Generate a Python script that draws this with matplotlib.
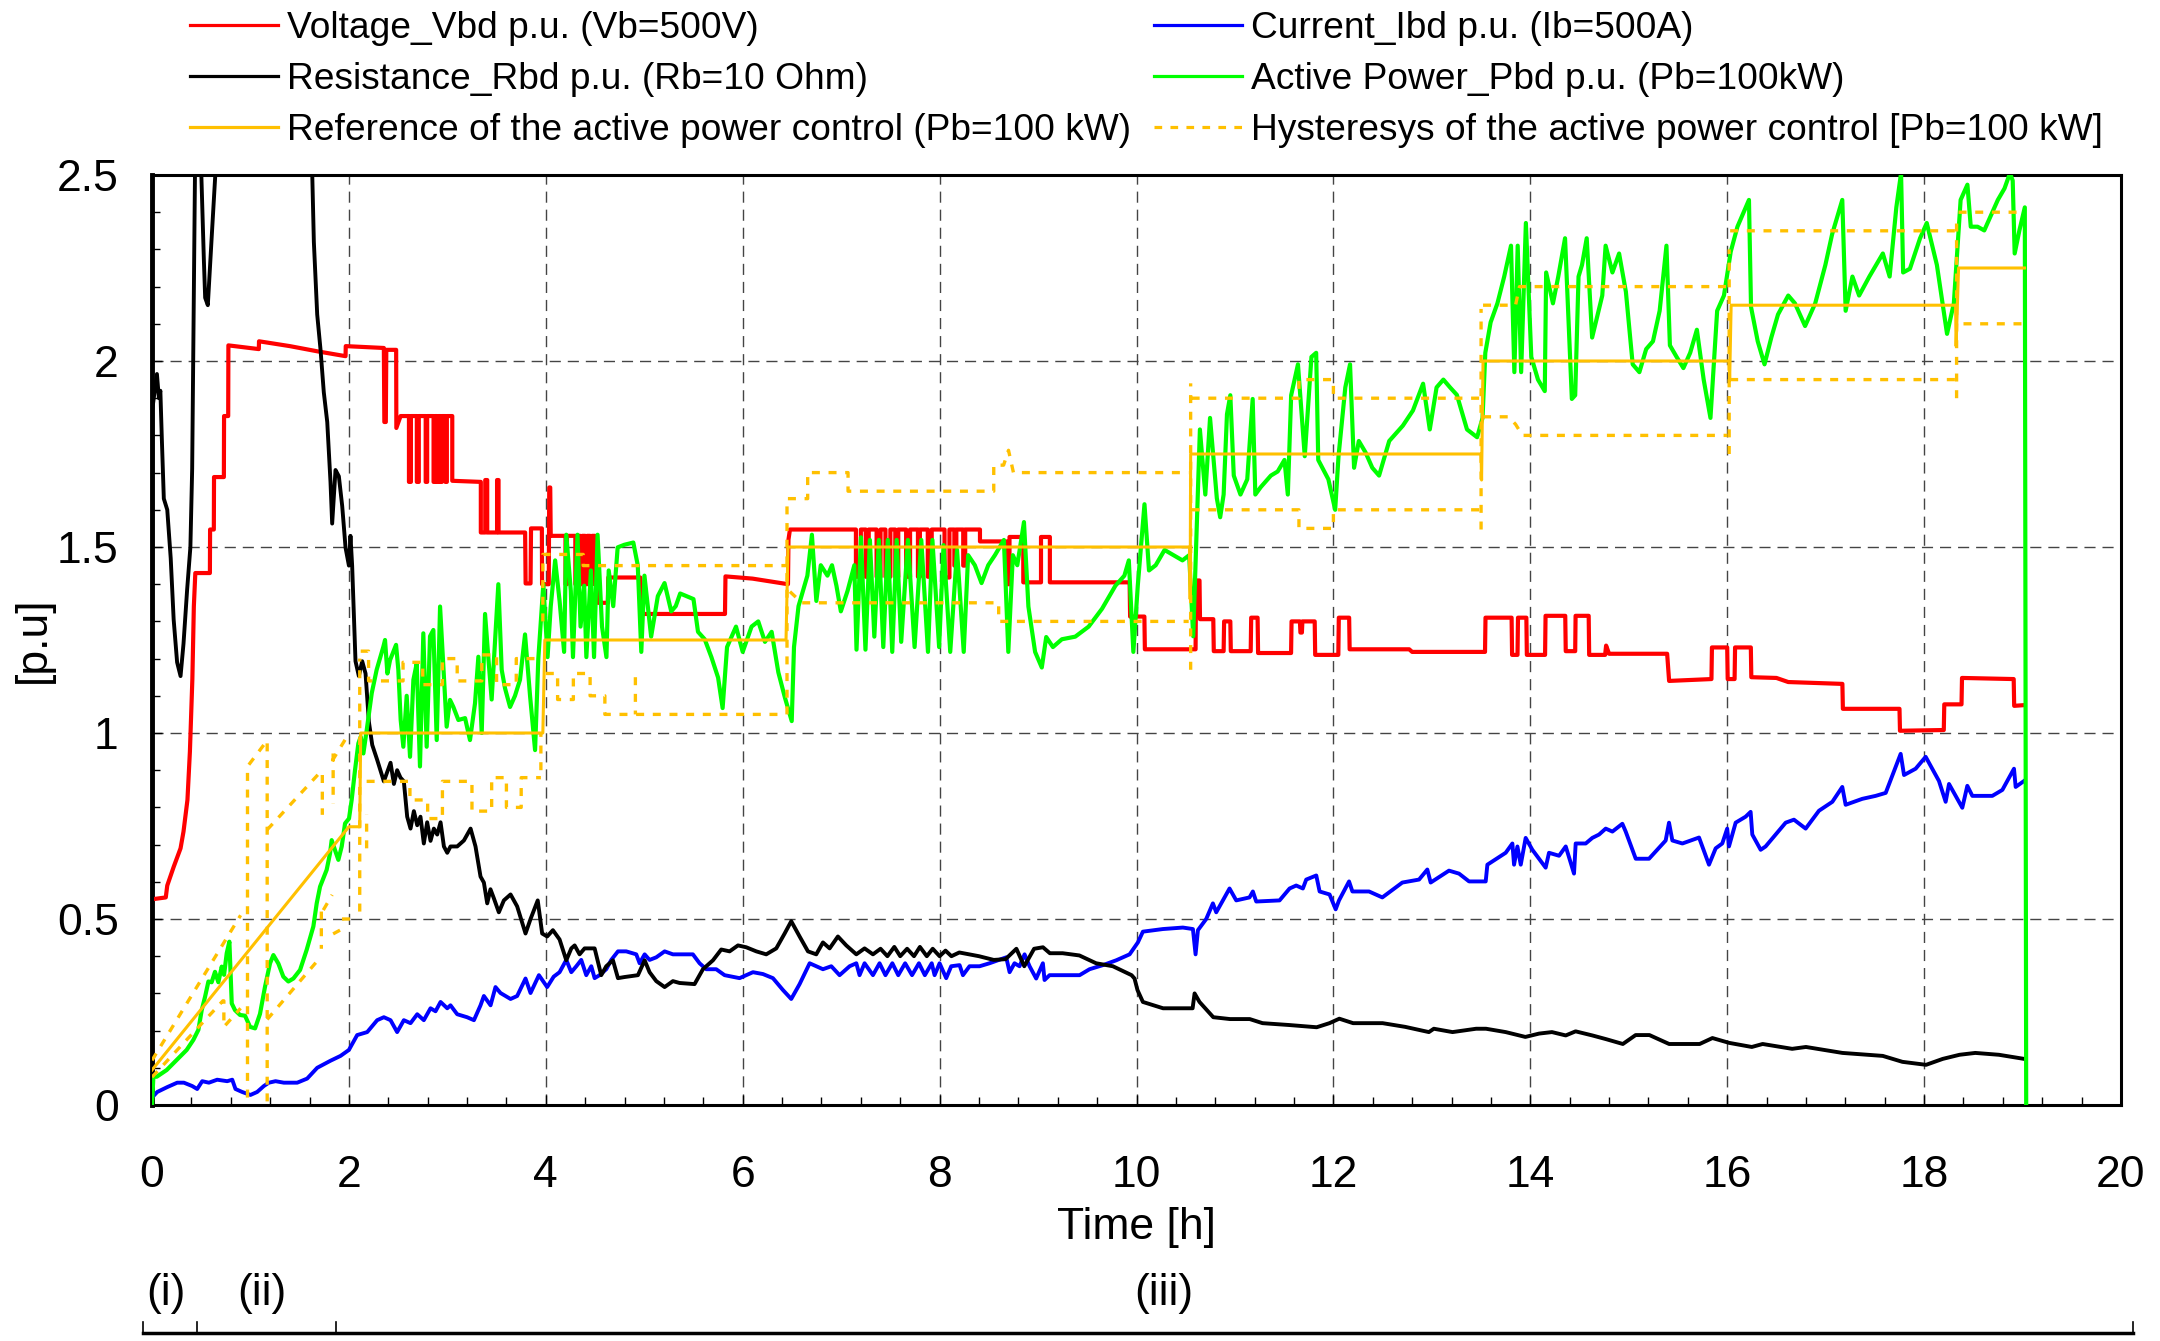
import numpy as np
import matplotlib
matplotlib.use('Agg')
import matplotlib.pyplot as plt
from matplotlib.lines import Line2D
from matplotlib.transforms import blended_transform_factory
from matplotlib.ticker import MultipleLocator, FuncFormatter

plt.rcParams['font.family'] = ['Liberation Sans', 'DejaVu Sans']

# ---------------- data (time [h], value [p.u.]) ----------------
voltage_pts = [
    (0.0, 0.553), (0.14, 0.558), (0.155, 0.59), (0.22, 0.64), (0.29, 0.69), (0.32, 0.735),
    (0.36, 0.82), (0.385, 0.95), (0.41, 1.145), (0.425, 1.34), (0.44, 1.43), (0.588, 1.43),
    (0.59, 1.547), (0.628, 1.547), (0.63, 1.688), (0.73, 1.688), (0.732, 1.852), (0.774, 1.852),
    (0.776, 2.042), (1.085, 2.032), (1.087, 2.053), (1.4, 2.04), (1.68, 2.026), (1.966, 2.013),
    (1.968, 2.04), (2.355, 2.035), (2.36, 1.836), (2.375, 1.836), (2.38, 2.03), (2.48, 2.03),
    (2.482, 1.82), (2.525, 1.852),
    (2.61, 1.852), (2.61, 1.675), (2.63, 1.675), (2.63, 1.852), (2.69, 1.852), (2.69, 1.675),
    (2.71, 1.675), (2.71, 1.852), (2.78, 1.852), (2.78, 1.675), (2.795, 1.675), (2.795, 1.852),
    (2.86, 1.852), (2.86, 1.675), (2.875, 1.675), (2.875, 1.852), (2.895, 1.852), (2.895, 1.675),
    (2.91, 1.675), (2.91, 1.852), (2.93, 1.852), (2.93, 1.675), (2.945, 1.675), (2.945, 1.852),
    (2.98, 1.852), (2.98, 1.675), (2.995, 1.675), (2.995, 1.852), (3.05, 1.852), (3.05, 1.678),
    (3.34, 1.675), (3.34, 1.539), (3.385, 1.539), (3.385, 1.68), (3.405, 1.68), (3.405, 1.539),
    (3.505, 1.539), (3.505, 1.68), (3.52, 1.68), (3.52, 1.539), (3.79, 1.539), (3.795, 1.402),
    (3.845, 1.402), (3.85, 1.55), (3.96, 1.55), (3.962, 1.40), (4.03, 1.40), (4.035, 1.66),
    (4.045, 1.66), (4.05, 1.53), (4.2, 1.53), (4.2, 1.40), (4.215, 1.40), (4.215, 1.53),
    (4.3, 1.53), (4.3, 1.40), (4.32, 1.40), (4.32, 1.53), (4.35, 1.53), (4.35, 1.40),
    (4.37, 1.40), (4.37, 1.53), (4.4, 1.53), (4.4, 1.40), (4.42, 1.40), (4.42, 1.53),
    (4.45, 1.53), (4.45, 1.40), (4.47, 1.40), (4.47, 1.53), (4.5, 1.53), (4.5, 1.40),
    (4.53, 1.40), (4.53, 1.35), (4.63, 1.35), (4.635, 1.418), (4.96, 1.418), (4.965, 1.32),
    (5.82, 1.32), (5.825, 1.421), (6.1, 1.415), (6.46, 1.40), (6.465, 1.52), (6.48, 1.547),
    (7.15, 1.547), (7.15, 1.42), (7.2, 1.42), (7.2, 1.547), (7.25, 1.547), (7.25, 1.42),
    (7.28, 1.42), (7.28, 1.547), (7.36, 1.547), (7.36, 1.42), (7.4, 1.42), (7.4, 1.547),
    (7.45, 1.547), (7.45, 1.42), (7.5, 1.42), (7.5, 1.547), (7.55, 1.547), (7.55, 1.42),
    (7.58, 1.42), (7.58, 1.547), (7.66, 1.547), (7.66, 1.42), (7.7, 1.42), (7.7, 1.547),
    (7.78, 1.547), (7.78, 1.42), (7.8, 1.42), (7.8, 1.547), (7.88, 1.547), (7.88, 1.42),
    (7.92, 1.42), (7.92, 1.547), (8.05, 1.547), (8.05, 1.418), (8.1, 1.418), (8.1, 1.547),
    (8.15, 1.547), (8.15, 1.45), (8.17, 1.45), (8.17, 1.547), (8.24, 1.547), (8.24, 1.45),
    (8.26, 1.45), (8.26, 1.547), (8.41, 1.547), (8.41, 1.515), (8.68, 1.515), (8.68, 1.40),
    (8.71, 1.40), (8.71, 1.527), (8.85, 1.527), (8.85, 1.405), (9.03, 1.405), (9.03, 1.527),
    (9.12, 1.527), (9.12, 1.405), (9.93, 1.405), (9.935, 1.313), (10.08, 1.313), (10.085, 1.225),
    (10.6, 1.225), (10.605, 1.41), (10.64, 1.41), (10.645, 1.306), (10.78, 1.306), (10.785, 1.22),
    (10.885, 1.22), (10.89, 1.30), (10.953, 1.30), (10.958, 1.22), (11.16, 1.22), (11.165, 1.31),
    (11.23, 1.31), (11.235, 1.215), (11.57, 1.215), (11.575, 1.30), (11.66, 1.30), (11.665, 1.27),
    (11.68, 1.27), (11.685, 1.30), (11.81, 1.30), (11.815, 1.21), (12.05, 1.21), (12.055, 1.31),
    (12.16, 1.31), (12.165, 1.225), (12.77, 1.225), (12.8, 1.218), (13.54, 1.218), (13.545, 1.31),
    (13.81, 1.31), (13.815, 1.21), (13.87, 1.21), (13.875, 1.31), (13.96, 1.31), (13.965, 1.21),
    (14.15, 1.21), (14.155, 1.315), (14.355, 1.315), (14.36, 1.22), (14.456, 1.22), (14.46, 1.315),
    (14.593, 1.315), (14.598, 1.21), (14.76, 1.21), (14.77, 1.235), (14.8, 1.213), (15.39, 1.213),
    (15.41, 1.14), (15.84, 1.145), (15.845, 1.23), (16.0, 1.23), (16.005, 1.145), (16.075, 1.145),
    (16.08, 1.23), (16.24, 1.23), (16.245, 1.15), (16.5, 1.148), (16.62, 1.137), (17.17, 1.132),
    (17.175, 1.065), (17.75, 1.065), (17.755, 1.006), (18.2, 1.008), (18.205, 1.077), (18.38, 1.077),
    (18.385, 1.148), (18.91, 1.145), (18.915, 1.073), (19.02, 1.075),
]

current_pts = [
    (0.0, 0.02), (0.053, 0.035), (0.154, 0.048), (0.256, 0.06), (0.324, 0.06), (0.408, 0.051),
    (0.459, 0.043), (0.51, 0.064), (0.578, 0.06), (0.662, 0.068), (0.764, 0.064), (0.815, 0.068),
    (0.848, 0.043), (0.916, 0.035), (1.0, 0.027), (1.068, 0.035), (1.136, 0.051), (1.187, 0.06),
    (1.255, 0.064), (1.339, 0.06), (1.475, 0.06), (1.576, 0.071), (1.678, 0.10), (1.813, 0.119),
    (1.915, 0.132), (2.0, 0.148), (2.084, 0.188), (2.186, 0.196), (2.287, 0.228), (2.355, 0.236),
    (2.423, 0.228), (2.49, 0.196), (2.558, 0.228), (2.626, 0.220), (2.694, 0.244), (2.761, 0.228),
    (2.829, 0.26), (2.88, 0.252), (2.931, 0.277), (2.999, 0.26), (3.032, 0.268), (3.1, 0.244),
    (3.2, 0.236), (3.27, 0.228), (3.337, 0.268), (3.371, 0.293), (3.439, 0.268), (3.489, 0.317),
    (3.54, 0.301), (3.642, 0.285), (3.709, 0.293), (3.794, 0.34), (3.845, 0.301), (3.93, 0.349),
    (4.014, 0.317), (4.08, 0.345), (4.14, 0.357), (4.208, 0.39), (4.259, 0.357), (4.31, 0.373),
    (4.36, 0.39), (4.411, 0.349), (4.462, 0.373), (4.496, 0.341), (4.546, 0.349), (4.614, 0.365),
    (4.665, 0.39), (4.733, 0.413), (4.817, 0.413), (4.919, 0.405), (4.953, 0.381), (5.004, 0.405),
    (5.054, 0.39), (5.122, 0.397), (5.207, 0.413), (5.291, 0.405), (5.494, 0.405), (5.562, 0.381),
    (5.63, 0.365), (5.731, 0.365), (5.816, 0.349), (5.968, 0.341), (6.104, 0.357), (6.206, 0.352),
    (6.307, 0.341), (6.409, 0.309), (6.493, 0.285), (6.578, 0.325), (6.68, 0.381), (6.747, 0.373),
    (6.815, 0.365), (6.9, 0.373), (6.984, 0.349), (7.086, 0.373), (7.154, 0.381), (7.187, 0.349),
    (7.238, 0.381), (7.323, 0.349), (7.39, 0.381), (7.45, 0.349), (7.52, 0.381), (7.58, 0.349),
    (7.65, 0.381), (7.72, 0.349), (7.79, 0.381), (7.85, 0.349), (7.92, 0.381), (7.949, 0.349),
    (8.0, 0.381), (8.067, 0.341), (8.118, 0.373), (8.203, 0.376), (8.237, 0.349), (8.304, 0.373),
    (8.406, 0.373), (8.507, 0.381), (8.677, 0.397), (8.711, 0.357), (8.761, 0.381), (8.812, 0.373),
    (8.863, 0.405), (8.914, 0.373), (8.981, 0.34), (9.049, 0.381), (9.066, 0.336), (9.117, 0.349),
    (9.422, 0.349), (9.523, 0.365), (9.659, 0.376), (9.794, 0.389), (9.93, 0.405), (10.014, 0.437),
    (10.065, 0.466), (10.268, 0.473), (10.471, 0.477), (10.573, 0.473), (10.6, 0.405), (10.624, 0.47),
    (10.708, 0.5), (10.776, 0.542), (10.81, 0.518), (10.877, 0.55), (10.945, 0.582), (11.013, 0.55),
    (11.148, 0.558), (11.182, 0.574), (11.216, 0.547), (11.453, 0.55), (11.555, 0.582), (11.622, 0.59),
    (11.69, 0.582), (11.724, 0.606), (11.826, 0.617), (11.86, 0.574), (11.961, 0.566), (12.023, 0.526),
    (12.057, 0.55), (12.159, 0.601), (12.193, 0.574), (12.362, 0.574), (12.497, 0.558), (12.7, 0.598),
    (12.87, 0.606), (12.954, 0.633), (12.988, 0.598), (13.174, 0.63), (13.276, 0.622), (13.378, 0.601),
    (13.547, 0.601), (13.564, 0.646), (13.75, 0.678), (13.818, 0.703), (13.835, 0.646), (13.869, 0.695),
    (13.903, 0.646), (13.953, 0.718), (14.021, 0.686), (14.089, 0.662), (14.156, 0.638), (14.19, 0.678),
    (14.292, 0.67), (14.36, 0.695), (14.444, 0.622), (14.461, 0.703), (14.563, 0.703), (14.63, 0.718),
    (14.698, 0.727), (14.766, 0.743), (14.834, 0.735), (14.935, 0.756), (14.969, 0.735), (15.071, 0.662),
    (15.206, 0.662), (15.375, 0.711), (15.409, 0.759), (15.443, 0.711), (15.545, 0.703), (15.714, 0.719),
    (15.815, 0.646), (15.883, 0.69), (15.95, 0.703), (16.0, 0.743), (16.018, 0.695), (16.086, 0.759),
    (16.187, 0.775), (16.238, 0.788), (16.255, 0.727), (16.34, 0.686), (16.39, 0.695), (16.492, 0.727),
    (16.594, 0.759), (16.678, 0.767), (16.797, 0.743), (16.932, 0.791), (17.068, 0.815), (17.169, 0.855),
    (17.203, 0.807), (17.372, 0.823), (17.508, 0.831), (17.61, 0.839), (17.762, 0.944), (17.796, 0.887),
    (17.914, 0.904), (18.016, 0.936), (18.151, 0.871), (18.219, 0.815), (18.253, 0.863), (18.388, 0.799),
    (18.439, 0.858), (18.49, 0.831), (18.693, 0.831), (18.795, 0.847), (18.913, 0.904), (18.93, 0.855),
    (19.015, 0.871),
]

resistance_pts = [
    (0.0, 0.0), (0.003, 1.87), (0.05, 1.965), (0.07, 1.90), (0.085, 1.92), (0.10, 1.79),
    (0.12, 1.63), (0.155, 1.60), (0.19, 1.47), (0.22, 1.305), (0.255, 1.19), (0.29, 1.153),
    (0.32, 1.24), (0.357, 1.386), (0.39, 1.50), (0.408, 1.71), (0.425, 2.19), (0.44, 2.6),
    (0.47, 2.9), (0.49, 2.6), (0.527, 2.27), (0.54, 2.17), (0.567, 2.15), (0.588, 2.25),
    (0.61, 2.35), (0.645, 2.51), (0.7, 2.9), (1.0, 3.4), (1.4, 3.1), (1.6, 2.6), (1.627, 2.51),
    (1.644, 2.32), (1.678, 2.125), (1.712, 2.03), (1.745, 1.916), (1.78, 1.836), (1.813, 1.675),
    (1.83, 1.563), (1.864, 1.707), (1.898, 1.69), (1.932, 1.61), (1.966, 1.498), (2.0, 1.45),
    (2.016, 1.53), (2.033, 1.45), (2.067, 1.193), (2.101, 1.153), (2.135, 1.193), (2.169, 1.16),
    (2.203, 1.03), (2.237, 0.968), (2.287, 0.928), (2.355, 0.87), (2.423, 0.92), (2.457, 0.863),
    (2.49, 0.90), (2.524, 0.88), (2.558, 0.87), (2.592, 0.775), (2.626, 0.743), (2.66, 0.79),
    (2.694, 0.752), (2.727, 0.775), (2.761, 0.703), (2.795, 0.76), (2.829, 0.71), (2.863, 0.743),
    (2.897, 0.727), (2.931, 0.76), (2.965, 0.695), (2.999, 0.678), (3.032, 0.695), (3.1, 0.695),
    (3.168, 0.711), (3.236, 0.743), (3.286, 0.695), (3.337, 0.614), (3.371, 0.598), (3.405, 0.542),
    (3.438, 0.58), (3.472, 0.556), (3.523, 0.518), (3.574, 0.55), (3.642, 0.566), (3.709, 0.534),
    (3.794, 0.461), (3.845, 0.50), (3.918, 0.55), (3.963, 0.461), (4.014, 0.453), (4.072, 0.47),
    (4.14, 0.445), (4.208, 0.389), (4.259, 0.421), (4.293, 0.429), (4.343, 0.405), (4.394, 0.421),
    (4.496, 0.421), (4.563, 0.349), (4.614, 0.373), (4.682, 0.389), (4.733, 0.341), (4.8, 0.344),
    (4.936, 0.349), (5.004, 0.389), (5.054, 0.357), (5.122, 0.333), (5.207, 0.317), (5.291, 0.333),
    (5.359, 0.328), (5.511, 0.325), (5.596, 0.365), (5.698, 0.389), (5.782, 0.418), (5.867, 0.413),
    (5.952, 0.429), (6.036, 0.424), (6.138, 0.413), (6.239, 0.405), (6.341, 0.421), (6.426, 0.461),
    (6.493, 0.494), (6.578, 0.453), (6.663, 0.413), (6.747, 0.405), (6.815, 0.437), (6.883, 0.421),
    (6.967, 0.453), (7.052, 0.429), (7.154, 0.405), (7.238, 0.421), (7.323, 0.405), (7.4, 0.42),
    (7.47, 0.40), (7.54, 0.425), (7.6, 0.40), (7.67, 0.42), (7.74, 0.40), (7.8, 0.425), (7.87, 0.40),
    (7.93, 0.42), (8.0, 0.40), (8.06, 0.415), (8.12, 0.40), (8.2, 0.41), (8.3, 0.405), (8.4, 0.40),
    (8.55, 0.39), (8.67, 0.392), (8.78, 0.42), (8.86, 0.373), (8.96, 0.42), (9.05, 0.424),
    (9.12, 0.408), (9.25, 0.408), (9.42, 0.402), (9.59, 0.381), (9.76, 0.373), (9.95, 0.349),
    (9.98, 0.34), (10.01, 0.309), (10.065, 0.277), (10.27, 0.26), (10.57, 0.26), (10.59, 0.30),
    (10.64, 0.277), (10.78, 0.236), (10.95, 0.231), (11.15, 0.231), (11.28, 0.22), (11.55, 0.215),
    (11.83, 0.209), (11.96, 0.22), (12.06, 0.232), (12.2, 0.22), (12.5, 0.22), (12.73, 0.21),
    (12.97, 0.196), (13.02, 0.205), (13.21, 0.196), (13.45, 0.205), (13.55, 0.205), (13.75, 0.196),
    (13.95, 0.183), (14.09, 0.192), (14.22, 0.196), (14.36, 0.187), (14.46, 0.198), (14.63, 0.187),
    (14.77, 0.177), (14.94, 0.164), (15.07, 0.188), (15.21, 0.188), (15.41, 0.164), (15.58, 0.164),
    (15.72, 0.164), (15.85, 0.18), (16.02, 0.167), (16.25, 0.156), (16.36, 0.164), (16.66, 0.151),
    (16.8, 0.156), (17.17, 0.14), (17.58, 0.132), (17.78, 0.116), (18.02, 0.108), (18.19, 0.124),
    (18.36, 0.135), (18.52, 0.14), (18.76, 0.135), (19.015, 0.124),
]

power_pts = [
    (0.0, 0.0), (0.014, 0.076), (0.048, 0.076), (0.149, 0.094), (0.251, 0.121), (0.352, 0.148),
    (0.42, 0.175), (0.471, 0.202), (0.505, 0.255), (0.539, 0.291), (0.573, 0.332), (0.606, 0.33),
    (0.64, 0.358), (0.674, 0.33), (0.708, 0.372), (0.732, 0.35), (0.759, 0.408), (0.786, 0.439),
    (0.81, 0.273), (0.843, 0.255), (0.894, 0.242), (0.945, 0.24), (0.996, 0.21), (1.047, 0.206),
    (1.097, 0.245), (1.148, 0.318), (1.199, 0.381), (1.233, 0.403), (1.284, 0.38), (1.334, 0.345),
    (1.385, 0.332), (1.436, 0.34), (1.504, 0.363), (1.571, 0.417), (1.639, 0.48), (1.673, 0.542),
    (1.707, 0.587), (1.774, 0.632), (1.808, 0.676), (1.825, 0.712), (1.859, 0.685), (1.893, 0.659),
    (1.927, 0.695), (1.961, 0.757), (2.001, 0.77), (2.028, 0.82), (2.062, 0.9), (2.096, 0.972),
    (2.12, 0.99), (2.147, 0.945), (2.181, 1.008), (2.232, 1.107), (2.282, 1.17), (2.35, 1.232),
    (2.367, 1.25), (2.391, 1.16), (2.418, 1.196), (2.479, 1.237), (2.502, 1.17), (2.526, 1.035),
    (2.553, 0.963), (2.587, 1.10), (2.621, 0.936), (2.655, 1.143), (2.689, 1.187), (2.722, 0.91),
    (2.756, 1.268), (2.79, 0.963), (2.824, 1.26), (2.858, 1.277), (2.892, 0.981), (2.926, 1.34),
    (2.993, 1.017), (3.027, 1.089), (3.061, 1.07), (3.112, 1.035), (3.18, 1.04), (3.23, 0.981),
    (3.281, 1.08), (3.315, 1.205), (3.349, 1.0), (3.383, 1.32), (3.417, 1.2), (3.45, 1.09),
    (3.518, 1.40), (3.552, 1.17), (3.586, 1.12), (3.637, 1.07), (3.687, 1.10), (3.738, 1.143),
    (3.789, 1.265), (3.84, 1.10), (3.891, 0.954), (3.924, 1.2), (3.975, 1.40), (4.018, 1.204),
    (4.05, 1.34), (4.095, 1.464), (4.14, 1.355), (4.186, 1.218), (4.208, 1.533), (4.254, 1.382),
    (4.276, 1.204), (4.322, 1.533), (4.353, 1.286), (4.39, 1.396), (4.412, 1.204), (4.458, 1.437),
    (4.49, 1.204), (4.526, 1.533), (4.571, 1.286), (4.616, 1.204), (4.639, 1.437), (4.685, 1.341),
    (4.73, 1.499), (4.798, 1.506), (4.889, 1.512), (4.934, 1.451), (4.97, 1.218), (5.002, 1.423),
    (5.07, 1.259), (5.138, 1.368), (5.206, 1.403), (5.274, 1.327), (5.32, 1.341), (5.365, 1.375),
    (5.5, 1.36), (5.546, 1.272), (5.614, 1.252), (5.682, 1.204), (5.75, 1.149), (5.796, 1.067),
    (5.841, 1.231), (5.932, 1.286), (6.0, 1.218), (6.09, 1.286), (6.158, 1.30), (6.226, 1.245),
    (6.294, 1.272), (6.362, 1.163), (6.43, 1.094), (6.498, 1.032), (6.521, 1.231), (6.567, 1.341),
    (6.657, 1.423), (6.703, 1.533), (6.748, 1.355), (6.793, 1.451), (6.861, 1.423), (6.907, 1.451),
    (6.952, 1.396), (6.997, 1.327), (7.065, 1.382), (7.134, 1.451), (7.156, 1.224), (7.201, 1.526),
    (7.247, 1.224), (7.292, 1.519), (7.337, 1.259), (7.383, 1.519), (7.428, 1.231), (7.474, 1.519),
    (7.519, 1.218), (7.564, 1.519), (7.61, 1.245), (7.678, 1.519), (7.746, 1.231), (7.814, 1.519),
    (7.882, 1.218), (7.927, 1.519), (7.995, 1.231), (8.04, 1.505), (8.108, 1.218), (8.177, 1.492),
    (8.245, 1.218), (8.29, 1.478), (8.358, 1.451), (8.426, 1.403), (8.494, 1.451), (8.562, 1.478),
    (8.653, 1.519), (8.698, 1.218), (8.744, 1.478), (8.789, 1.451), (8.857, 1.567), (8.902, 1.34),
    (8.97, 1.218), (9.038, 1.176), (9.083, 1.258), (9.151, 1.231), (9.242, 1.252), (9.378, 1.259),
    (9.514, 1.286), (9.65, 1.334), (9.786, 1.396), (9.877, 1.423), (9.922, 1.464), (9.968, 1.218),
    (10.013, 1.396), (10.081, 1.615), (10.127, 1.437), (10.195, 1.451), (10.285, 1.492),
    (10.376, 1.478), (10.467, 1.464), (10.535, 1.478), (10.576, 1.26), (10.61, 1.54), (10.644, 1.816),
    (10.699, 1.641), (10.747, 1.847), (10.816, 1.631), (10.85, 1.58), (10.885, 1.641), (10.919, 1.857),
    (10.953, 1.908), (10.988, 1.692), (11.056, 1.641), (11.125, 1.682), (11.18, 1.898), (11.207, 1.641),
    (11.262, 1.661), (11.365, 1.692), (11.434, 1.703), (11.503, 1.734), (11.537, 1.641), (11.571, 1.908),
    (11.64, 1.991), (11.709, 1.744), (11.777, 2.011), (11.825, 2.022), (11.846, 1.734), (11.949, 1.682),
    (12.018, 1.60), (12.052, 1.744), (12.121, 1.929), (12.169, 1.991), (12.21, 1.713), (12.258, 1.785),
    (12.327, 1.754), (12.395, 1.713), (12.464, 1.692), (12.567, 1.785), (12.705, 1.826), (12.808, 1.867),
    (12.911, 1.939), (12.979, 1.816), (13.048, 1.929), (13.117, 1.95), (13.185, 1.929), (13.254, 1.909),
    (13.357, 1.816), (13.46, 1.795), (13.515, 1.847), (13.543, 2.022), (13.597, 2.104), (13.666, 2.155),
    (13.735, 2.227), (13.804, 2.31), (13.838, 1.97), (13.872, 2.31), (13.907, 1.97), (13.955, 2.371),
    (14.01, 2.011), (14.078, 1.95), (14.147, 1.919), (14.161, 2.238), (14.23, 2.155), (14.284, 2.227),
    (14.353, 2.33), (14.422, 1.898), (14.456, 1.908), (14.49, 2.227), (14.525, 2.258), (14.573, 2.33),
    (14.628, 2.063), (14.731, 2.176), (14.765, 2.31), (14.834, 2.238), (14.902, 2.289), (14.971, 2.186),
    (15.04, 1.991), (15.108, 1.97), (15.177, 2.032), (15.246, 2.053), (15.314, 2.135), (15.383, 2.31),
    (15.418, 2.042), (15.486, 2.011), (15.555, 1.981), (15.624, 2.022), (15.692, 2.084), (15.761, 1.95),
    (15.83, 1.847), (15.898, 2.135), (15.967, 2.176), (16.036, 2.294), (16.104, 2.361), (16.221, 2.433),
    (16.242, 2.145), (16.31, 2.053), (16.379, 1.991), (16.448, 2.063), (16.516, 2.125), (16.62, 2.176),
    (16.688, 2.155), (16.791, 2.094), (16.894, 2.155), (16.997, 2.258), (17.066, 2.341), (17.169, 2.433),
    (17.203, 2.135), (17.272, 2.227), (17.34, 2.176), (17.444, 2.227), (17.581, 2.289), (17.65, 2.227),
    (17.718, 2.413), (17.766, 2.505), (17.787, 2.238), (17.856, 2.248), (17.959, 2.33), (18.027, 2.371),
    (18.13, 2.258), (18.233, 2.073), (18.302, 2.155), (18.371, 2.433), (18.44, 2.474), (18.474, 2.361),
    (18.543, 2.361), (18.611, 2.351), (18.68, 2.392), (18.749, 2.433), (18.817, 2.464), (18.872, 2.505),
    (18.9, 2.485), (18.92, 2.289), (18.968, 2.351), (19.023, 2.413), (19.037, 0.0),
]

reference_pts = [
    (0.0, 0.094), (2.0, 0.748), (2.11, 0.748), (2.12, 1.0), (3.97, 1.0), (3.99, 1.25),
    (6.44, 1.25), (6.46, 1.5), (10.54, 1.5), (10.545, 1.36), (10.55, 1.75), (13.5, 1.75),
    (13.505, 1.68), (13.52, 2.0), (16.02, 2.0), (16.025, 1.95), (16.04, 2.15), (18.32, 2.15),
    (18.325, 2.04), (18.35, 2.25), (19.02, 2.25),
]

hysteresis_segments = [
    [(0.0, 0.12), (0.9, 0.51)],
    [(0.97, 0.02), (0.97, 0.91), (1.17, 0.98), (1.17, 0.0)],
    [(1.17, 0.74), (1.71, 0.895), (1.73, 0.895), (1.73, 0.78)],
    [(1.83, 0.925), (1.98, 0.99)],
    [(1.84, 0.945), (1.84, 0.81)],
    [(0.0, 0.075), (0.72, 0.28), (0.73, 0.28), (0.73, 0.21), (0.9, 0.26)],
    [(1.17, 0.23), (1.72, 0.40)],
    [(1.72, 0.52), (1.72, 0.42)],
    [(1.74, 0.524), (1.83, 0.565)],
    [(1.84, 0.46), (1.91, 0.47)],
    [(1.93, 0.5), (2.02, 0.5)],
    [(2.11, 0.52), (2.11, 1.20)],
    [(2.12, 1.22), (2.2, 1.22), (2.2, 1.14), (2.55, 1.14), (2.55, 1.19), (2.75, 1.19), (2.75, 1.13),
     (2.95, 1.13), (2.95, 1.2), (3.1, 1.2), (3.1, 1.14), (3.35, 1.14), (3.35, 1.21), (3.5, 1.21),
     (3.5, 1.13), (3.7, 1.13), (3.7, 1.2), (3.95, 1.2)],
    [(2.18, 0.87), (2.62, 0.87), (2.62, 0.82), (2.8, 0.82), (2.8, 0.77), (2.95, 0.77), (2.95, 0.87),
     (3.25, 0.87), (3.25, 0.79), (3.45, 0.79), (3.45, 0.88), (3.6, 0.88), (3.6, 0.8), (3.75, 0.8),
     (3.75, 0.88), (3.95, 0.88)],
    [(2.18, 0.69), (2.18, 0.78)],
    [(3.97, 1.30), (3.97, 1.48), (4.38, 1.48), (4.38, 1.45), (6.44, 1.45)],
    [(3.95, 0.9), (3.95, 1.0)],
    [(4.0, 1.16), (4.12, 1.16), (4.12, 1.09), (4.28, 1.09), (4.28, 1.16), (4.45, 1.16), (4.45, 1.10),
     (4.6, 1.10), (4.6, 1.05), (6.44, 1.05)],
    [(4.91, 1.15), (4.91, 1.05)],
    [(6.45, 1.05), (6.45, 1.63), (6.66, 1.63), (6.66, 1.70), (7.07, 1.70), (7.07, 1.65), (8.55, 1.65),
     (8.55, 1.72), (8.65, 1.72), (8.7, 1.76), (8.75, 1.70), (10.53, 1.70)],
    [(6.48, 1.38), (6.6, 1.35), (8.6, 1.35), (8.6, 1.30), (10.53, 1.30)],
    [(10.55, 1.17), (10.55, 1.94)],
    [(10.56, 1.90), (11.65, 1.90), (11.65, 1.95), (12.0, 1.95), (12.0, 1.90), (13.48, 1.90)],
    [(10.56, 1.60), (11.65, 1.60), (11.65, 1.55), (12.0, 1.55), (12.0, 1.60), (13.48, 1.60)],
    [(13.5, 1.547), (13.5, 2.14)],
    [(13.52, 2.15), (13.85, 2.15), (13.89, 2.2), (16.0, 2.2)],
    [(13.52, 1.85), (13.78, 1.85), (13.85, 1.83), (13.92, 1.80), (16.0, 1.80)],
    [(16.02, 1.75), (16.02, 2.30)],
    [(16.03, 2.35), (18.32, 2.35)],
    [(16.03, 1.95), (18.32, 1.95)],
    [(18.33, 1.90), (18.33, 2.39)],
    [(18.35, 2.40), (19.02, 2.40)],
    [(18.4, 2.10), (19.0, 2.10)],
]

labels = [
    'Voltage_Vbd p.u. (Vb=500V)',
    'Resistance_Rbd p.u. (Rb=10 Ohm)',
    'Reference of the active power control (Pb=100 kW)',
    'Current_Ibd p.u. (Ib=500A)',
    'Active Power_Pbd p.u. (Pb=100kW)',
    'Hysteresys of the active power control [Pb=100 kW]',
]
x_ticks = [0, 2, 4, 6, 8, 10, 12, 14, 16, 18, 20]
y_ticks = [0, 0.5, 1.0, 1.5, 2.0, 2.5]
phase_labels = ['(i)', '(ii)', '(iii)']
phase_label_t = [0.14, 1.12, 10.28]
phase_bounds = [-0.09, 0.46, 1.87, 20.12]


def unzip(pts):
    return np.array([p[0] for p in pts]), np.array([p[1] for p in pts])


def join_segments(segs):
    ts, vs = [], []
    for s in segs:
        for t, v in s:
            ts.append(t)
            vs.append(v)
        ts.append(np.nan)
        vs.append(np.nan)
    return np.array(ts), np.array(vs)


W, H = 2160, 1341
fig = plt.figure(figsize=(W / 100, H / 100), dpi=100)
ax = fig.add_axes([152 / W, 1 - 1105 / H, (2121 - 152) / W, (1105 - 175) / H])

RED, BLUE, GREEN, GOLD = '#FF0000', '#0000FF', '#00FF00', '#FFC000'
HYST_DASH = (2.4, 2.6)

tv, vv = unzip(voltage_pts)
ti, vi = unzip(current_pts)
tr, vr = unzip(resistance_pts)
tp, vp = unzip(power_pts)
tf, vf = unzip(reference_pts)
th, vh = join_segments(hysteresis_segments)

ax.plot(tv, vv, color=RED, lw=3.0, zorder=3)
ax.plot(ti, vi, color=BLUE, lw=2.8, zorder=3)
ax.plot(tr, vr, color='black', lw=2.8, zorder=3)
ax.plot(tp, vp, color=GREEN, lw=3.0, zorder=4)
ax.plot(tf, vf, color=GOLD, lw=2.2, zorder=5)
ax.plot(th, vh, color=GOLD, lw=2.4, dashes=HYST_DASH, zorder=5)

ax.set_xlim(0, 20)
ax.set_ylim(0, 2.5)
ax.set_xticks(x_ticks)
ax.set_yticks(y_ticks)
ax.xaxis.set_minor_locator(MultipleLocator(0.4))
ax.yaxis.set_minor_locator(MultipleLocator(0.1))
ax.yaxis.set_major_formatter(FuncFormatter(lambda v, _: f'{v:g}'))
ax.tick_params(which='both', direction='in', top=False, right=False, width=1.0)
ax.tick_params(which='major', length=7, labelsize=32)
ax.tick_params(which='minor', length=6)
ax.tick_params(axis='x', which='major', pad=36)
ax.tick_params(axis='y', which='major', pad=24)
ax.grid(True, which='major', color='#444444', lw=1.0, linestyle=(0, (8, 5)))
ax.set_axisbelow(True)
for side, sp in ax.spines.items():
    sp.set_linewidth(3.5 if side == 'left' else 2.2)
    sp.set_color('black')

ax.set_xlabel('Time [h]', fontsize=32)
ax.xaxis.set_label_coords(0.5, -0.132)
ax.xaxis.label.set_va('center')
ax.set_ylabel('[p.u]', fontsize=32)
ax.yaxis.set_label_coords(-0.060, 0.5)
ax.yaxis.label.set_va('center')

# legends (two columns placed independently)
h_v = Line2D([], [], color=RED, lw=2.3)
h_r = Line2D([], [], color='black', lw=2.3)
h_f = Line2D([], [], color=GOLD, lw=2.3)
h_i = Line2D([], [], color=BLUE, lw=2.3)
h_p = Line2D([], [], color=GREEN, lw=2.3)
h_h = Line2D([], [], color=GOLD, lw=2.3, dashes=HYST_DASH)
leg_kw = dict(loc='upper left', frameon=False, fontsize=26.7, handlelength=2.38,
              handletextpad=0.24, labelspacing=0.43, borderpad=0, borderaxespad=0)
fig.legend([h_v, h_r, h_f], labels[0:3], bbox_to_anchor=(190 / W, 1 - 11 / H), **leg_kw)
fig.legend([h_i, h_p, h_h], labels[3:6], bbox_to_anchor=(1154 / W, 1 - 11 / H), **leg_kw)

# phase annotation below the axis
tr_blend = blended_transform_factory(ax.transData, fig.transFigure)
for lab, t in zip(phase_labels, phase_label_t):
    fig.text(t, 1 - 1294 / H, lab, transform=tr_blend, fontsize=32, ha='center', va='center')
bar_y = 1 - 1333 / H
fig.add_artist(Line2D([phase_bounds[0], phase_bounds[-1]], [bar_y, bar_y], transform=tr_blend,
                      color='black', lw=2.5))
for b in phase_bounds:
    fig.add_artist(Line2D([b, b], [bar_y, 1 - 1322 / H], transform=tr_blend, color='black', lw=1.2))

fig.savefig('out.png', dpi=100)
